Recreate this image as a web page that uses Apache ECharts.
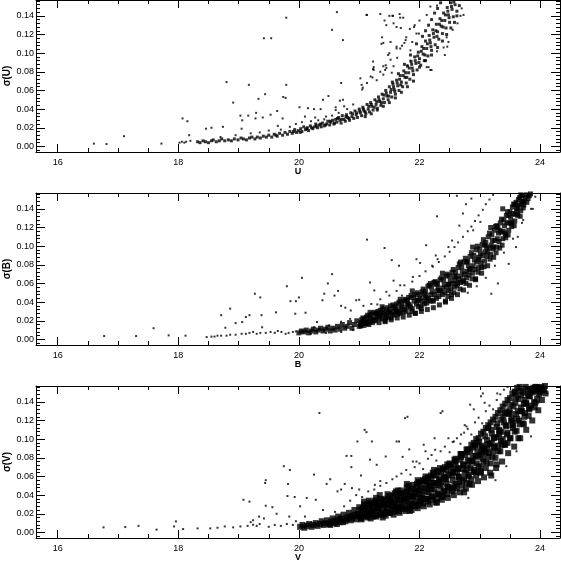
<!DOCTYPE html>
<html>
<head>
<meta charset="utf-8">
<script src="https://cdn.jsdelivr.net/npm/echarts@6/dist/echarts.min.js"></script>
<style>
html, body { margin: 0; padding: 0; background: #fff; }
#chart { width: 561px; height: 561px; }
</style>
</head>
<body>
<div id="chart"></div>
<script>
// photometric error vs magnitude, three bands
const bandNames = ['U', 'B', 'V'];

// U: main sequence of the error curve
const uBand = [
  [18.32,.005],[18.36,.004],[18.41,.006],[18.45,.005],[18.50,.004],[18.55,.006],[18.58,.007],[18.63,.005],[18.68,.006],[18.72,.008],
  [18.77,.006],[18.83,.007],[18.88,.006],[18.93,.008],[18.99,.007],[19.04,.009],[19.08,.008],[19.13,.007],[19.18,.009],[19.22,.010],
  [19.27,.008],[19.31,.010],[19.36,.009],[19.41,.011],[19.46,.010],[19.50,.012],[19.55,.010],[19.59,.013],[19.64,.011],[19.68,.014],
  [19.73,.012],[19.77,.015],[19.81,.013],[19.85,.016],[19.89,.014],[19.93,.018],[19.96,.015],[19.99,.017],[20.03,.019],[20.05,.016],
  [20.08,.021],[20.11,.018],[20.14,.020],[20.16,.017],[20.19,.022],[20.23,.019],[20.26,.021],[20.28,.024],[20.31,.020],[20.34,.023],
  [20.37,.021],[20.39,.025],[20.42,.022],[20.46,.024],[20.48,.027],[20.51,.023],[20.53,.026],[20.56,.028],[20.59,.025],[20.61,.029],
  [20.63,.026],[20.66,.031],[20.68,.028],[20.70,.025],[20.72,.033],[20.75,.029],[20.77,.027],[20.79,.034],[20.81,.031],[20.84,.028],
  [20.86,.036],[20.88,.032],[20.91,.030],[20.93,.038],[20.95,.034],[20.97,.031],[21.00,.040],[21.02,.036],[21.04,.033],[21.06,.042],
  [21.08,.038],[21.11,.035],[21.13,.045],[21.15,.040],[21.17,.037],[21.19,.047],[21.21,.043],[21.23,.039],[21.26,.050],[21.28,.045],
  [21.30,.041],[21.32,.053],[21.34,.048],[21.36,.044],[21.38,.056],[21.40,.051],[21.42,.047],[21.44,.060],[21.46,.054],[21.48,.050],
  [21.50,.064],[21.52,.058],[21.54,.053],[21.56,.067],[21.58,.061],[21.60,.056],[21.62,.071],[21.64,.065],[21.66,.060],[21.68,.076],
  [21.70,.069],[21.72,.064],[21.74,.081],[21.76,.074],[21.78,.068],[21.80,.086],[21.82,.079],[21.84,.072],[21.86,.091],[21.88,.084],
  [21.90,.077],[21.92,.096],[21.94,.089],[21.96,.082],[21.98,.101],[22.00,.094],[22.02,.087],[22.04,.107],[22.06,.099],[22.08,.092],
  [22.10,.113],[22.12,.105],[22.14,.097],[22.16,.119],[22.18,.111],[22.20,.103],[22.22,.125],[22.24,.117],[22.26,.109],[22.28,.131],
  [22.30,.123],[22.32,.115],[22.34,.137],[22.36,.129],[22.38,.121],[22.40,.143],[22.42,.135],[22.44,.127],[22.46,.149],[22.48,.141],
  [22.50,.133],[22.52,.154],[22.54,.147],[22.56,.139],[22.59,.152],[22.62,.145],[22.66,.151],
  [19.62,.012],[19.91,.016],[20.02,.015],[20.13,.019],[20.21,.020],[20.29,.022],[20.36,.024],[20.44,.023],[20.52,.027],[20.58,.024],
  [20.64,.030],[20.71,.029],[20.78,.032],[20.83,.030],[20.89,.035],[20.96,.036],[21.01,.038],[21.07,.040],[21.10,.037],[21.16,.043],
  [21.20,.045],[21.25,.042],[21.29,.048],[21.33,.050],[21.37,.047],[21.41,.055],[21.45,.057],[21.49,.054],[21.53,.061],[21.57,.064],
  [21.59,.059],[21.63,.068],[21.67,.072],[21.69,.066],[21.73,.076],[21.77,.079],[21.79,.074],[21.83,.084],[21.87,.088],[21.89,.081],
  [21.93,.092],[21.97,.097],[21.99,.090],[22.03,.102],[22.07,.105],[22.09,.098],[22.13,.110],[22.17,.114],[22.19,.107],[22.23,.121],
  [22.27,.124],[22.29,.118],[22.33,.131],[22.37,.135],[22.39,.128],[22.43,.141],[22.47,.145],[22.49,.138],[22.53,.150],[22.57,.155],
  [21.95,.110],[22.05,.118],[22.10,.124],[22.15,.130],[22.20,.136],[22.25,.143],[22.30,.148],[22.35,.154],[22.00,.085],[22.10,.092],
  [22.20,.098],[22.30,.106],[22.38,.113],[22.45,.120],[22.52,.127],[22.58,.133],[22.62,.140],[21.85,.098],[21.75,.088],[21.65,.078],
  [21.55,.069],[21.90,.070],[21.80,.064],[21.70,.058],[21.60,.052],[21.50,.047],[21.40,.043],[21.30,.039],[21.20,.035],[21.10,.032]
];
// U: stars off the main curve
const uScatter = [
  [16.60,.003],[16.81,.0025],[17.10,.011],[17.72,.003],[18.07,.030],[18.15,.027],[18.18,.012],[18.02,.004],[18.06,.005],[18.10,.004],
  [18.13,.005],[18.20,.006],[19.79,.138],[19.42,.116],[19.54,.116],[20.63,.144],[20.55,.125],[20.73,.114],[21.12,.141],[21.35,.142],
  [18.80,.069],[19.17,.066],[19.79,.066],[20.70,.068],[21.23,.091],[21.23,.083],[18.91,.047],[19.44,.056],[19.33,.051],[19.03,.033],
  [19.16,.033],[19.29,.036],[19.53,.034],[19.64,.038],[19.74,.053],[19.78,.052],[20.01,.042],[20.15,.041],[20.25,.040],[20.36,.040],
  [20.49,.054],[20.40,.050],[20.73,.050],[21.04,.066],[21.05,.061],[18.46,.019],[18.55,.020],[18.74,.021],[19.05,.019],[19.06,.028],
  [19.28,.030],[19.40,.031],[19.73,.030],[19.65,.022],[20.10,.032],[20.27,.031],[20.45,.032],[20.61,.042],[20.75,.043],[21.19,.075],
  [21.37,.110],[21.40,.111],[21.38,.117],[21.50,.140],[21.55,.140],[21.57,.132],[21.62,.128],[21.68,.138],[21.73,.138],[21.50,.100],
  [21.52,.093],[21.57,.086],[21.40,.086],[21.43,.082],[21.54,.079],[21.62,.107],[21.68,.105],[21.75,.111],[21.78,.117],[21.84,.126],
  [21.92,.130],[21.95,.121],[22.73,.141],[22.63,.132],[22.55,.125],[22.46,.107],[22.42,.098],[22.20,.082],[22.15,.085],[20.61,.039],
  [20.68,.049],[21.06,.063],[21.24,.082],[21.22,.074],[21.44,.087],[21.45,.084],[21.48,.098],[21.63,.095],[21.62,.105],[21.71,.108],
  [21.77,.114],[21.69,.127],[21.91,.128],[21.99,.121],[21.85,.103],[22.00,.135],[22.12,.141],[22.18,.150],[22.29,.151],[21.88,.112],
  [21.52,.112],[21.42,.135],[21.67,.142],[21.56,.140],[21.13,.141],[21.45,.130],[21.24,.085],[21.02,.073],[21.13,.068],[21.29,.071],
  [21.35,.080],[21.40,.077],[21.80,.087],[21.85,.092],[22.12,.085],[22.18,.082],[22.29,.102],[22.40,.106],[22.48,.112],[22.45,.117],
  [22.68,.140],[22.70,.148],[19.50,.017],[19.70,.018],[19.85,.021],[19.95,.024],[20.05,.026],[20.20,.027],[20.32,.028],[20.42,.029],
  [20.55,.033],[20.66,.036],[20.80,.040],[20.90,.045],[18.95,.012],[19.20,.014],[19.35,.015],[18.70,.010]
];

// B: main sequence
const bCore = [
  [20.00,.007],[20.04,.009],[20.08,.008],[20.12,.010],[20.16,.007],[20.20,.009],[20.24,.011],[20.28,.008],[20.32,.010],[20.36,.012],
  [20.40,.009],[20.44,.011],[20.48,.013],[20.52,.009],[20.56,.012],[20.60,.010],[20.64,.014],[20.68,.011],[20.72,.016],[20.76,.012],
  [20.80,.014],[20.84,.018],[20.88,.012],[20.92,.016],[20.96,.020],[21.00,.014],[21.03,.018],[21.06,.023],[21.08,.015],[21.11,.020],
  [21.14,.026],[21.16,.016],[21.19,.022],[21.22,.018],[21.25,.029],[21.27,.020],[21.30,.024],[21.33,.018],[21.35,.031],[21.38,.022],
  [21.41,.027],[21.43,.020],[21.46,.034],[21.48,.024],[21.51,.029],[21.53,.021],[21.56,.037],[21.58,.026],[21.61,.032],[21.63,.023],
  [21.66,.040],[21.68,.028],[21.71,.035],[21.73,.024],[21.76,.043],[21.78,.030],[21.81,.038],[21.83,.026],[21.86,.047],[21.88,.033],
  [21.91,.041],[21.93,.028],[21.96,.050],[21.98,.035],[22.01,.044],[22.03,.030],[22.06,.054],[22.08,.038],[22.11,.047],[22.13,.032],
  [22.16,.058],[22.18,.041],[22.21,.051],[22.23,.034],[22.26,.062],[22.28,.044],[22.31,.055],[22.33,.037],[22.36,.066],[22.38,.048],
  [22.41,.059],[22.43,.040],[22.46,.070],[22.48,.052],[22.51,.063],[22.53,.044],[22.56,.075],[22.58,.056],[22.61,.068],[22.63,.048],
  [22.66,.081],[22.68,.061],[22.71,.073],[22.73,.053],[22.76,.087],[22.78,.066],[22.81,.079],[22.83,.058],[22.86,.093],[22.88,.071],
  [22.91,.085],[22.93,.064],[22.96,.100],[22.98,.077],[23.01,.092],[23.03,.071],[23.06,.107],[23.08,.084],[23.11,.099],[23.13,.079],
  [23.16,.114],[23.18,.091],[23.21,.106],[23.23,.088],[23.26,.121],[23.28,.099],[23.31,.114],[23.33,.098],[23.36,.129],[23.38,.108],
  [23.41,.122],[23.43,.109],[23.46,.137],[23.48,.117],[23.51,.131],[23.53,.121],[23.56,.145],[23.58,.127],[23.61,.140],[23.63,.133],
  [23.66,.152],[23.68,.138],[23.71,.148],[23.73,.144],[23.77,.155],[23.80,.151],[23.84,.156],
  [21.02,.016],[21.07,.020],[21.13,.017],[21.18,.025],[21.23,.021],[21.29,.027],[21.34,.023],[21.39,.029],[21.45,.025],[21.50,.032],
  [21.55,.027],[21.60,.035],[21.65,.030],[21.70,.038],[21.75,.032],[21.80,.041],[21.85,.035],[21.90,.045],[21.95,.038],[22.00,.048],
  [22.05,.041],[22.10,.052],[22.15,.044],[22.20,.056],[22.25,.048],[22.30,.060],[22.35,.052],[22.40,.064],[22.45,.056],[22.50,.068],
  [22.55,.060],[22.60,.072],[22.65,.065],[22.70,.078],[22.75,.070],[22.80,.084],[22.85,.076],[22.90,.090],[22.95,.083],[23.00,.097],
  [23.05,.090],[23.10,.104],[23.15,.098],[23.20,.112],[23.25,.106],[23.30,.120],[23.35,.115],[23.40,.128],[23.45,.125],[23.50,.137],
  [23.55,.135],[23.60,.147],[23.65,.144],[23.70,.154],
  [21.04,.021],[21.09,.017],[21.12,.024],[21.17,.019],[21.21,.027],[21.26,.022],[21.31,.030],[21.36,.026],[21.40,.032],[21.44,.023],
  [21.47,.030],[21.52,.036],[21.57,.030],[21.62,.038],[21.64,.027],[21.69,.033],[21.74,.041],[21.79,.035],[21.82,.045],[21.87,.030],
  [21.92,.048],[21.97,.042],[22.02,.036],[22.04,.051],[22.09,.045],[22.12,.039],[22.14,.057],[22.19,.048],[22.22,.042],[22.24,.061],
  [22.29,.052],[22.32,.046],[22.34,.064],[22.39,.055],[22.42,.050],[22.44,.068],[22.47,.046],[22.49,.059],[22.52,.054],[22.54,.072],
  [22.57,.050],[22.59,.063],[22.62,.058],[22.64,.077],[22.67,.054],[22.69,.068],[22.72,.063],[22.74,.083],[22.77,.060],[22.79,.073],
  [22.82,.069],[22.84,.089],[22.87,.065],[22.89,.079],[22.92,.075],[22.94,.096],[22.97,.072],[22.99,.086],[23.02,.082],[23.04,.102],
  [23.07,.078],[23.09,.094],[23.12,.089],[23.14,.110],[23.17,.086],[23.19,.101],[23.22,.097],[23.24,.117],[23.27,.093],[23.29,.108],
  [23.32,.105],[23.34,.125],[23.37,.101],[23.39,.116],[23.42,.114],[23.44,.133],[23.47,.112],[23.49,.125],[23.52,.124],[23.54,.142],
  [23.57,.122],[23.59,.134],[23.62,.137],[23.64,.150],[23.67,.132],[23.69,.146],[23.72,.141],[23.75,.152],[23.78,.147],[23.82,.154]
];
const bFill = [
  [21.03,.0145],[21.08,.022],[21.13,.019],[21.18,.029],[21.23,.020],[21.28,.028],[21.33,.025],[21.38,.035],[21.43,.019],[21.48,.029],
  [21.53,.023],[21.58,.034],[21.63,.029],[21.68,.043],[21.73,.029],[21.78,.042],[21.83,.037],[21.88,.052],[21.93,.028],[21.98,.042],
  [22.03,.033],[22.08,.049],[22.13,.042],[22.18,.060],[22.23,.041],[22.28,.059],[22.33,.052],[22.38,.071],[22.43,.041],[22.48,.059],
  [22.53,.048],[22.58,.067],[22.63,.060],[22.68,.083],[22.73,.062],[22.78,.083],[22.83,.075],[22.88,.099],[22.93,.065],[22.98,.088],
  [23.03,.077],[23.08,.101],[23.13,.094],[23.18,.120],[23.23,.099],[23.28,.122],[23.33,.117],[23.38,.140],[23.43,.112],[23.48,.133],
  [23.53,.126],[23.58,.145],[23.63,.142],[23.68,.155],[23.73,.148]
];
// B: scattered stars
const bScatter = [
  [16.77,.0036],[17.30,.0036],[17.59,.012],[17.84,.0043],[18.12,.004],[18.47,.0025],[18.71,.004],[18.86,.005],[19.12,.006],[19.18,.007],
  [19.24,.008],[19.36,.007],[19.53,.008],[19.71,.008],[19.83,.007],[19.95,.0086],[18.55,.003],[18.60,.003],[18.65,.004],[18.80,.004],
  [18.95,.005],[19.05,.006],[19.30,.006],[19.45,.007],[19.60,.007],[19.65,.009],[19.78,.006],[19.90,.008],
  [18.78,.0125],[18.71,.026],[18.86,.033],[18.95,.0175],[19.06,.0186],[19.12,.024],[19.18,.026],[19.27,.049],[19.36,.045],[19.38,.026],
  [19.39,.013],[19.62,.029],[19.80,.057],[19.86,.041],[19.95,.041],[19.94,.0275],[20.00,.045],[20.05,.066],[20.11,.0286],[20.30,.0186],
  [20.39,.042],[20.42,.049],[20.48,.060],[20.55,.070],[20.59,.047],[20.65,.052],[20.70,.036],[20.77,.034],[20.86,.031],[20.95,.042],
  [21.00,.0425],[21.07,.036],[21.13,.107],[21.18,.061],[21.25,.0525],[21.30,.0375],[21.39,.035],[21.42,.098],[21.45,.051],[21.54,.085],
  [21.57,.063],[21.66,.079],[21.68,.058],[21.71,.047],[21.83,.044],[21.89,.067],[21.95,.086],[22.01,.082],[22.11,.101],[22.21,.079],
  [22.27,.090],[22.30,.086],[22.29,.132],[22.48,.099],[22.54,.106],[22.62,.154],[22.66,.122],[22.72,.135],[22.77,.145],[22.86,.151],
  [22.89,.117],[23.01,.126],[23.88,.140],[23.72,.128],[23.63,.110],[23.60,.099],[23.48,.081],[23.30,.060],[23.19,.049],
  [21.20,.038],[21.35,.043],[21.50,.047],[21.62,.052],[21.75,.058],[21.88,.062],[22.00,.068],[22.10,.073],[22.22,.078],[22.32,.083],
  [22.42,.089],[22.50,.094],[22.58,.099],[22.64,.104],[22.72,.110],[22.80,.116],[22.86,.121],[22.92,.127],[22.98,.133],[23.05,.139],
  [23.10,.145],[23.16,.150],[23.22,.155],[22.80,.050],[22.95,.057],[23.10,.066],[23.25,.079],[23.40,.093],[23.55,.108],[23.70,.125],
  [23.85,.140],[23.92,.153],[20.25,.013],[20.50,.015],[20.70,.019],[20.85,.022],[20.20,.006],[20.45,.007],[20.70,.008],[20.90,.010]
];

// V: main sequence
const vCore = [
  [20.02,.006],[20.06,.008],[20.09,.005],[20.13,.007],[20.17,.009],[20.21,.006],[20.24,.008],[20.28,.010],[20.31,.007],[20.35,.009],
  [20.38,.012],[20.41,.008],[20.44,.010],[20.47,.013],[20.50,.009],[20.53,.011],[20.56,.015],[20.59,.010],[20.62,.013],[20.65,.017],
  [20.68,.011],[20.71,.014],[20.74,.019],[20.77,.012],[20.80,.016],[20.83,.021],[20.86,.013],[20.89,.018],[20.92,.024],[20.95,.014],
  [20.98,.020],[21.00,.027],[21.03,.015],[21.05,.022],[21.08,.030],[21.10,.017],[21.12,.025],[21.15,.019],[21.17,.032],[21.19,.015],
  [21.21,.027],[21.24,.021],[21.26,.034],[21.28,.017],[21.31,.024],[21.33,.029],[21.35,.019],[21.37,.036],[21.40,.022],[21.42,.031],
  [21.44,.018],[21.46,.026],[21.49,.039],[21.51,.021],[21.53,.033],[21.55,.028],[21.57,.019],[21.59,.042],[21.61,.024],[21.63,.036],
  [21.65,.030],[21.67,.021],[21.69,.045],[21.71,.027],[21.73,.038],[21.75,.033],[21.77,.023],[21.79,.048],[21.81,.029],[21.83,.041],
  [21.85,.035],[21.87,.024],[21.89,.051],[21.91,.031],[21.93,.044],[21.95,.038],[21.97,.026],[21.99,.054],[22.01,.033],[22.03,.047],
  [22.05,.040],[22.07,.028],[22.09,.057],[22.11,.036],[22.13,.050],[22.15,.043],[22.17,.030],[22.19,.061],[22.21,.039],[22.23,.053],
  [22.25,.046],[22.27,.032],[22.29,.065],[22.31,.042],[22.33,.057],[22.35,.049],[22.37,.035],[22.39,.068],[22.41,.045],[22.43,.060],
  [22.45,.052],[22.47,.037],[22.49,.072],[22.51,.048],[22.53,.064],[22.55,.056],[22.57,.040],[22.59,.076],[22.61,.052],[22.63,.068],
  [22.65,.060],[22.67,.043],[22.69,.081],[22.71,.056],[22.73,.072],[22.75,.064],[22.77,.047],[22.79,.086],[22.81,.060],[22.83,.077],
  [22.85,.069],[22.87,.051],[22.89,.091],[22.91,.065],[22.93,.082],[22.95,.074],[22.97,.055],[22.99,.097],[23.01,.070],[23.03,.088],
  [23.05,.079],[23.07,.059],[23.09,.103],[23.11,.075],[23.13,.094],[23.15,.085],[23.17,.064],[23.19,.110],[23.21,.081],[23.23,.101],
  [23.25,.091],[23.27,.069],[23.29,.117],[23.31,.087],[23.33,.108],[23.35,.098],[23.37,.076],[23.39,.124],[23.41,.094],[23.43,.115],
  [23.45,.105],[23.47,.085],[23.49,.131],[23.51,.101],[23.53,.122],[23.55,.112],[23.57,.092],[23.59,.139],[23.61,.109],[23.63,.130],
  [23.65,.120],[23.67,.101],[23.69,.147],[23.71,.117],[23.73,.138],[23.75,.128],[23.77,.110],[23.79,.153],[23.81,.125],[23.83,.146],
  [23.85,.136],[23.87,.120],[23.89,.155],[23.91,.134],[23.93,.152],[23.95,.143],[23.97,.131],[24.00,.150],[24.03,.142],[24.06,.154],
  [24.09,.149],
  [21.01,.020],[21.06,.026],[21.11,.023],[21.16,.029],[21.20,.025],[21.25,.031],[21.30,.027],[21.34,.033],[21.39,.029],[21.43,.035],
  [21.48,.031],[21.52,.037],[21.57,.033],[21.62,.039],[21.66,.035],[21.71,.042],[21.76,.037],[21.80,.044],[21.84,.039],[21.88,.047],
  [21.92,.042],[21.96,.049],[22.00,.045],[22.04,.052],[22.08,.047],[22.12,.055],[22.16,.050],[22.20,.058],[22.24,.053],[22.28,.061],
  [22.32,.056],[22.36,.064],[22.40,.059],[22.44,.067],[22.48,.062],[22.52,.070],[22.56,.065],[22.60,.074],[22.64,.069],[22.68,.078],
  [22.72,.073],[22.76,.083],[22.80,.077],[22.84,.088],[22.88,.082],[22.92,.093],[22.96,.087],[23.00,.083],[23.04,.093],[23.08,.088],
  [23.12,.099],[23.16,.095],[23.20,.106],[23.24,.102],[23.28,.113],[23.32,.110],[23.36,.121],[23.40,.118],[23.44,.129],[23.48,.127],
  [23.52,.137],[23.56,.135],[23.60,.145],[23.64,.143],[23.68,.152],[23.72,.150],[23.76,.156],[23.84,.154],[23.92,.156],[23.98,.155],
  [21.04,.014],[21.14,.016],[21.23,.017],[21.32,.019],[21.41,.020],[21.50,.021],[21.58,.022],[21.66,.023],[21.74,.025],[21.82,.026],
  [21.90,.028],[21.98,.029],[22.06,.031],[22.14,.033],[22.22,.035],[22.30,.037],[22.38,.039],[22.46,.041],[22.54,.044],[22.62,.047],
  [22.70,.050],[22.78,.053],[22.86,.057],[22.94,.061],[23.02,.065],[23.10,.069],[23.18,.074],[23.26,.080],[23.34,.087],[23.42,.094],
  [23.50,.101],[23.58,.108],[23.66,.116],[23.74,.124],[23.82,.132],[23.90,.140],[23.98,.148],[24.06,.152],
  [21.08,.033],[21.28,.037],[21.47,.041],[21.64,.045],[21.82,.050],[21.97,.056],[22.10,.060],[22.22,.064],[22.34,.069],[22.46,.073],
  [22.58,.078],[22.70,.084],[22.80,.089],[22.90,.096],[22.98,.101],[23.06,.108],[23.14,.115],[23.22,.121],[23.30,.128],[23.38,.135],
  [23.46,.142],[23.54,.149],[23.62,.155],
  [20.52,.008],[20.58,.012],[20.63,.009],[20.69,.015],[20.73,.011],[20.79,.014],[20.84,.017],[20.88,.015],[20.93,.019],[20.97,.017],
  [21.02,.024],[21.07,.018],[21.09,.028],[21.13,.021],[21.18,.030],[21.22,.023],[21.27,.018],[21.29,.032],[21.32,.026],[21.36,.021],
  [21.38,.034],[21.41,.028],[21.45,.022],[21.47,.036],[21.50,.029],[21.54,.024],[21.56,.040],[21.60,.031],[21.64,.026],[21.68,.041],
  [21.70,.034],[21.72,.028],[21.78,.043],[21.80,.036],[21.84,.030],[21.86,.046],[21.90,.038],[21.94,.032],[21.96,.052],[22.00,.041],
  [22.02,.034],[22.06,.055],[22.10,.044],[22.12,.036],[22.14,.059],[22.18,.047],[22.20,.038],[22.24,.062],[22.26,.051],[22.30,.041],
  [22.32,.066],[22.36,.054],[22.40,.044],[22.42,.070],[22.44,.057],[22.48,.047],[22.50,.074],[22.54,.061],[22.58,.050],[22.60,.079],
  [22.62,.064],[22.66,.054],[22.68,.084],[22.72,.068],[22.74,.058],[22.78,.089],[22.80,.072],[22.82,.062],[22.86,.094],[22.88,.076],
  [22.90,.067],[22.94,.100],[22.96,.081],[22.98,.071],[23.02,.106],[23.04,.085],[23.06,.076],[23.10,.112],[23.12,.090],[23.14,.081],
  [23.18,.118],[23.20,.096],[23.22,.087],[23.26,.124],[23.28,.102],[23.30,.093],[23.34,.131],[23.36,.108],[23.38,.100],[23.42,.138],
  [23.44,.114],[23.46,.107],[23.50,.144],[23.52,.120],[23.54,.115],[23.58,.151],[23.60,.127],[23.62,.122],[23.66,.156],[23.68,.134],
  [23.70,.130],[23.74,.142],[23.76,.138],[23.80,.148],[23.82,.146],[23.86,.152],[23.88,.150],[23.94,.156],[24.02,.156],[24.08,.157]
];
const vFill = [
  [21.03,.016],[21.07,.026],[21.12,.021],[21.16,.034],[21.21,.020],[21.25,.031],[21.30,.026],[21.34,.040],[21.39,.016],[21.43,.030],
  [21.48,.021],[21.52,.034],[21.57,.028],[21.61,.044],[21.66,.027],[21.70,.042],[21.75,.035],[21.79,.052],[21.84,.023],[21.88,.039],
  [21.93,.028],[21.97,.045],[22.02,.037],[22.06,.056],[22.11,.036],[22.15,.054],[22.20,.046],[22.24,.067],[22.29,.032],[22.33,.051],
  [22.38,.038],[22.42,.058],[22.47,.049],[22.51,.072],[22.56,.047],[22.60,.068],[22.65,.059],[22.69,.084],[22.74,.043],[22.78,.067],
  [22.83,.052],[22.87,.076],[22.92,.065],[22.96,.094],[23.01,.064],[23.05,.091],[23.10,.086],[23.14,.112],[23.19,.061],[23.23,.092],
  [23.28,.073],[23.32,.105],[23.37,.094],[23.41,.128],[23.46,.096],[23.50,.128],[23.55,.117],[23.59,.150],[23.64,.101],[23.68,.130],
  [23.73,.116],[23.77,.139],[23.82,.133],[23.87,.152],[23.92,.139],[23.97,.153],[24.02,.153]
];
// V: scattered stars
const vScatter = [
  [16.76,.0054],[17.12,.0057],[17.34,.007],[17.64,.003],[17.93,.0064],[17.96,.0118],[18.08,.0036],[18.32,.0043],[18.53,.0043],[18.65,.005],
  [18.77,.0064],[18.91,.0054],[19.03,.0064],[19.15,.007],[19.24,.0082],[19.30,.007],[19.08,.035],[19.18,.033],[19.24,.013],[19.34,.017],
  [19.42,.015],[19.44,.053],[19.45,.056],[19.45,.0286],[19.56,.027],[19.63,.020],[19.75,.071],[19.81,.039],[19.93,.038],[19.85,.067],
  [19.82,.052],[19.84,.017],[20.02,.028],[20.10,.017],[20.13,.037],[20.28,.035],[20.25,.062],[20.34,.128],[20.40,.024],[20.46,.052],
  [20.52,.057],[20.64,.044],[20.70,.046],[20.76,.052],[20.79,.082],[20.87,.082],[20.87,.070],[20.88,.0475],[20.97,.0975],[21.00,.046],
  [21.03,.061],[21.09,.110],[21.12,.1075],[21.18,.078],[21.21,.0975],[21.29,.0725],[21.35,.055],[21.44,.0814],[21.26,.051],[21.62,.0975],
  [21.66,.0975],[21.72,.081],[21.76,.1225],[21.80,.124],[21.83,.089],[21.89,.076],[21.95,.076],[22.07,.094],[22.10,.087],[22.26,.0886],
  [22.35,.128],[22.38,.130],[22.25,.101],[22.48,.101],[22.57,.0975],[22.69,.105],[22.75,.115],[22.78,.1136],[22.90,.132],[23.02,.146],
  [23.05,.149],[23.08,.139],[23.29,.149],[22.84,.137],[24.12,.149],[23.97,.139],[23.85,.103],[23.61,.087],[23.44,.071],[23.26,.056],
  [22.81,.037],[19.50,.006],[19.60,.008],[19.70,.007],[19.80,.009],[19.90,.008],[19.95,.012],[19.20,.011],[19.35,.009],
  [20.60,.022],[20.75,.028],[20.85,.034],[20.95,.040],[21.05,.038],[21.15,.044],[21.25,.046],[21.35,.050],[21.45,.053],[21.55,.057],
  [21.62,.060],[21.70,.063],[21.78,.067],[21.85,.062],[21.92,.070],[22.00,.074],[22.06,.068],[22.14,.079],[22.20,.083],[22.28,.077],
  [22.35,.087],[22.42,.092],[22.50,.086],[22.55,.097],[22.62,.101],[22.68,.095],[22.74,.107],[22.80,.111],[22.86,.105],[22.92,.118],
  [22.98,.123],[23.04,.117],[23.10,.130],[23.16,.136],[23.22,.132],[23.28,.142],[23.34,.148],[23.40,.153],[23.46,.156]
];

const coreData = [uBand, bCore.concat(bFill), vCore.concat(vFill)];
const scatterData = [uScatter, bScatter, vScatter];
const coreSizes = [3, 5, 6];

const gridTops = [0, 193, 386];
const black = '#000';
const xRange = [15.64, 24.33];
const yRange = [-0.006, 0.157];

// fresh style objects for every axis
const line = () => ({ show: true, onZero: false, lineStyle: { color: black, width: 1 } });
const tick = len => ({ show: true, inside: true, length: len, lineStyle: { color: black, width: 1 } });
const minor = n => ({ show: true, splitNumber: n, length: 4, lineStyle: { color: black, width: 1 } });

const grids = [], xAxes = [], yAxes = [], series = [];
for (let i = 0; i < 3; i++) {
  grids.push({ left: 36, right: 1, top: gridTops[i], height: 152, outerBoundsMode: 'none' });
  xAxes.push({
    gridIndex: i, type: 'value', min: xRange[0], max: xRange[1], splitNumber: 4, position: 'bottom',
    axisLine: line(), axisTick: tick(8), minorTick: minor(4), splitLine: { show: false },
    axisLabel: { showMinLabel: false, showMaxLabel: false, margin: 6, color: black, fontSize: 9 },
    name: bandNames[i], nameLocation: 'middle', nameGap: 15, nameMoveOverlap: false,
    nameTextStyle: { color: black, fontSize: 9, fontWeight: 'bold' }
  });
  yAxes.push({
    gridIndex: i, type: 'value', min: yRange[0], max: yRange[1], splitNumber: 8, position: 'left',
    axisLine: line(), axisTick: tick(9), minorTick: minor(5), splitLine: { show: false },
    axisLabel: { showMinLabel: false, showMaxLabel: false, margin: 2, color: black, fontSize: 9,
      formatter: v => v.toFixed(2) },
    name: 'σ(' + bandNames[i] + ')', nameLocation: 'middle', nameGap: 24, nameMoveOverlap: false,
    nameTextStyle: { color: black, fontSize: 10, fontWeight: 'bold' }
  });
  series.push({
    type: 'scatter', xAxisIndex: i, yAxisIndex: i, data: coreData[i],
    symbol: 'rect', symbolSize: coreSizes[i], itemStyle: { color: black }
  });
  series.push({
    type: 'scatter', xAxisIndex: i, yAxisIndex: i, data: scatterData[i],
    symbol: 'rect', symbolSize: 2, itemStyle: { color: black }
  });
}
// overlay grids carrying the top and right tick marks
for (let i = 0; i < 3; i++) {
  grids.push({ left: 36, right: 1, top: gridTops[i], height: 152, outerBoundsMode: 'none' });
  xAxes.push({
    gridIndex: 3 + i, type: 'value', min: xRange[0], max: xRange[1], splitNumber: 4, position: 'top',
    axisLine: line(), axisTick: tick(8), minorTick: minor(4), splitLine: { show: false },
    axisLabel: { show: false }
  });
  yAxes.push({
    gridIndex: 3 + i, type: 'value', min: yRange[0], max: yRange[1], splitNumber: 8, position: 'right',
    axisLine: line(), axisTick: tick(9), minorTick: minor(5), splitLine: { show: false },
    axisLabel: { show: false }
  });
}

const chart = echarts.init(document.getElementById('chart'));
chart.setOption({
  animation: false,
  grid: grids,
  xAxis: xAxes,
  yAxis: yAxes,
  series: series
});
</script>
</body>
</html>
